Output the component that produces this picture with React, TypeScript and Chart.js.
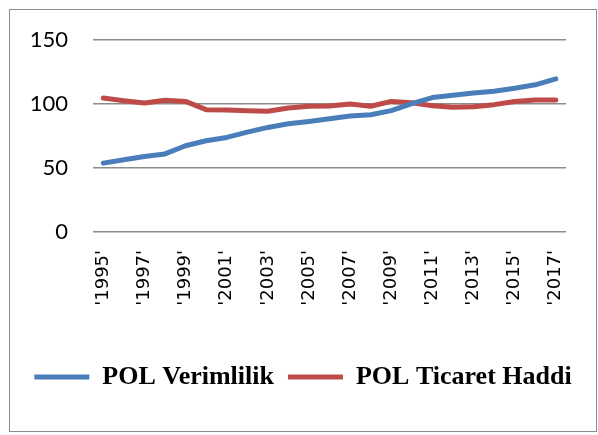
import React, { useEffect, useRef } from "react";
import { Chart, registerables } from "chart.js";

Chart.register(...registerables);

const years = [
  "1995", "1996", "1997", "1998", "1999", "2000", "2001", "2002", "2003", "2004", "2005", "2006",
  "2007", "2008", "2009", "2010", "2011", "2012", "2013", "2014", "2015", "2016", "2017",
];
const categoryLabels = years.map((y) => "'" + y + "'");

const verimlilik = [
  53.8, 56.4, 59.0, 61.0, 67.4, 71.3, 73.9, 78.0, 81.7, 84.6, 86.4, 88.5,
  90.6, 91.6, 94.8, 100.3, 105.0, 106.8, 108.6, 110.0, 112.3, 115.0, 119.6,
];
const ticaretHaddi = [
  104.7, 102.6, 100.8, 102.9, 102.0, 95.6, 95.3, 94.8, 94.3, 96.9, 98.2, 98.4,
  100.0, 98.2, 102.0, 101.0, 98.7, 97.4, 97.9, 99.5, 102.0, 103.1, 103.1,
];
const seriesNames = ["POL Verimlilik", "POL Ticaret Haddi"];
const yTicks = [0, 50, 100, 150];

export default function App() {
  const canvasRef = useRef<HTMLCanvasElement | null>(null);

  useEffect(() => {
    const canvas = canvasRef.current;
    if (!canvas) return;
    const chart = new Chart(canvas, {
      type: "line",
      data: {
        labels: categoryLabels,
        datasets: [
          {
            label: seriesNames[0],
            data: verimlilik,
            borderColor: "#4A7EBB",
            backgroundColor: "#4A7EBB",
            borderWidth: 5,
            borderCapStyle: "round",
            borderJoinStyle: "round",
            pointRadius: 0,
            tension: 0,
          },
          {
            label: seriesNames[1],
            data: ticaretHaddi,
            borderColor: "#BE4B48",
            backgroundColor: "#BE4B48",
            borderWidth: 5,
            borderCapStyle: "round",
            borderJoinStyle: "round",
            pointRadius: 0,
            tension: 0,
          },
        ],
      },
      options: {
        animation: false,
        responsive: false,
        maintainAspectRatio: false,
        layout: { padding: { top: 30, bottom: 31, left: 0, right: 0 } },
        plugins: {
          tooltip: { enabled: false },
          legend: {
            position: "bottom",
            labels: {
              usePointStyle: true,
              pointStyle: "line",
              pointStyleWidth: 55,
              padding: 14,
              color: "#000",
              font: { family: "'Liberation Serif', 'Times New Roman', serif", size: 26, weight: "bold" },
            },
          },
        },
        scales: {
          x: {
            offset: true,
            grid: { display: false, drawTicks: false },
            border: { display: false },
            afterFit: (s: any) => {
              s.height = 118;
            },
            ticks: {
              autoSkip: false,
              minRotation: 90,
              maxRotation: 90,
              padding: 18,
              color: "#000",
              font: { family: "'DejaVu Sans', sans-serif", size: 18 },
              callback: (_v: any, i: number) => (i % 2 === 0 ? categoryLabels[i] : ""),
            },
          },
          y: {
            min: yTicks[0],
            max: yTicks[yTicks.length - 1],
            afterFit: (s: any) => {
              s.width = 83;
              s.paddingTop = 0;
              s.paddingBottom = 0;
            },
            afterBuildTicks: (s: any) => {
              s.ticks = yTicks.map((v) => ({ value: v }));
            },
            grid: { color: "#8C8C8C", lineWidth: 1.5, drawTicks: false },
            border: { display: false },
            ticks: {
              padding: 25,
              color: "#000",
              font: { family: "Lato, 'Noto Sans', sans-serif", size: 22 },
            },
          },
          y2: {
            position: "right",
            display: true,
            grid: { display: false, drawTicks: false },
            border: { display: false },
            ticks: { display: false },
            afterFit: (s: any) => {
              s.width = 28;
              s.paddingTop = 0;
              s.paddingBottom = 0;
            },
          },
        },
      },
    });
    return () => chart.destroy();
  }, []);

  return (
    <div style={{ position: "fixed", left: 0, top: 0, width: 598, height: 435, background: "#fff" }}>
      <div
        style={{
          position: "absolute",
          left: 9,
          top: 9,
          width: 586,
          height: 421,
          border: "1.5px solid #8C8C8C",
        }}
      >
        <canvas ref={canvasRef} width={586} height={421} style={{ display: "block", width: 586, height: 421 }} />
      </div>
    </div>
  );
}
